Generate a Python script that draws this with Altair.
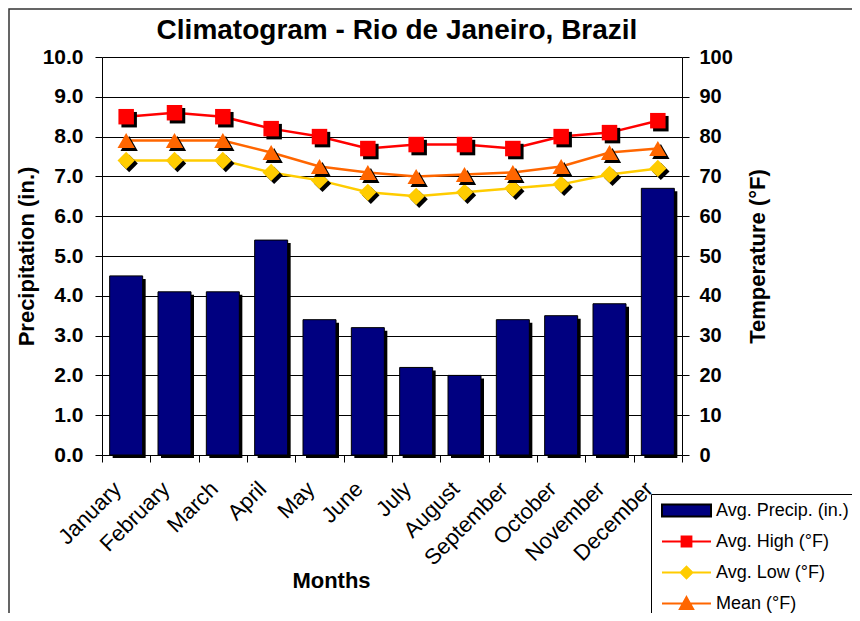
import altair as alt
import pandas as pd

months = ["January", "February", "March", "April", "May", "June", "July",
          "August", "September", "October", "November", "December"]
precip = [4.5, 4.1, 4.1, 5.4, 3.4, 3.2, 2.2, 2.0, 3.4, 3.5, 3.8, 6.7]
high = [85, 86, 85, 82, 80, 77, 78, 78, 77, 80, 81, 84]
low = [74, 74, 74, 71, 69, 66, 65, 66, 67, 68, 70.5, 72]
mean = [79, 79, 79, 76, 72.5, 71, 70, 70.5, 71, 72.5, 76, 77]
series = ["Avg. Precip. (in.)", "Avg. High (°F)", "Avg. Low (°F)", "Mean (°F)"]
precip_ticks = [0, 1, 2, 3, 4, 5, 6, 7, 8, 9, 10]
temp_ticks = [0, 10, 20, 30, 40, 50, 60, 70, 80, 90, 100]

FONT = "Liberation Sans, Arial, sans-serif"
NAVY = "#000080"
RED = "#FF0000"
GOLD = "#FFCC00"
ORANGE = "#FF6600"

df = pd.DataFrame({"month": months, "precip": precip, "high": high,
                   "low": low, "mean": mean})

X = alt.X(
    "month:N", sort=months,
    scale=alt.Scale(type="band", paddingInner=0, paddingOuter=0),
    axis=alt.Axis(
        title="Months", titleFont=FONT, titleFontSize=22, titleFontWeight="bold",
        titleColor="black", titleX=229, titleY=132, titleBaseline="alphabetic",
        titleAlign="center",
        labelAngle=-45, labelAlign="right", labelBaseline="middle",
        labelFont=FONT, labelFontSize=22, labelColor="black",
        labelPadding=23, labelOffset=-9,
        tickBand="extent", tickSize=7, tickColor="black",
        domainColor="black", grid=False,
    ),
)

py_scale = alt.Scale(domain=[0, 10], nice=False)
py_axis = alt.Axis(
    orient="left", values=precip_ticks, format=".1f",
    title="Precipitation (in.)", titleFont=FONT, titleFontSize=22,
    titleFontWeight="bold", titleColor="black", titleAngle=270,
    titleX=-76, titleY=199, titleAlign="center", titleBaseline="middle",
    labelFont=FONT, labelFontSize=21, labelFontWeight="bold", labelColor="black",
    labelPadding=12, tickSize=7, tickColor="black", domainColor="black",
    grid=True, gridColor="black", gridWidth=1,
)

ty_scale = alt.Scale(domain=[0, 100], nice=False)
ty_axis = alt.Axis(
    orient="right", values=temp_ticks, format="d",
    title="Temperature (°F)", titleFont=FONT, titleFontSize=22,
    titleFontWeight="bold", titleColor="black", titleAngle=270,
    titleX=75, titleY=199, titleAlign="center", titleBaseline="middle",
    labelFont=FONT, labelFontSize=20, labelFontWeight="bold", labelColor="black",
    labelPadding=10, tickSize=7, tickColor="black", domainColor="black",
    grid=False,
)

base = alt.Chart(df)

bar_shadow = base.mark_bar(color="black", size=33, xOffset=3, yOffset=3).encode(
    x=X, y=alt.Y("precip:Q", scale=py_scale, axis=py_axis))
bars = base.mark_bar(color=NAVY, size=33, stroke="black", strokeWidth=1).encode(
    x=X, y=alt.Y("precip:Q", scale=py_scale, axis=py_axis))
precip_layer = alt.layer(bar_shadow, bars)

temp_parts = []
for field, color, shape, size in [("high", RED, "square", 240),
                                  ("low", GOLD, "diamond", 300),
                                  ("mean", ORANGE, "triangle-up", 300)]:
    y = alt.Y(f"{field}:Q", scale=ty_scale, axis=ty_axis)
    temp_parts.append(base.mark_line(color=color, strokeWidth=2.5).encode(x=X, y=y))
    temp_parts.append(base.mark_point(shape=shape, filled=True, color="black", opacity=1,
                                      size=size, xOffset=3, yOffset=3).encode(x=X, y=y))
    temp_parts.append(base.mark_point(shape=shape, filled=True, color=color, opacity=1,
                                      size=size).encode(x=X, y=y))
temp_layer = alt.layer(*temp_parts)

# Legend (drawn from the scales; the layer itself shows no marks)
paths = [
    "M-1,-0.24H1V0.24H-1Z",
    "M-1,0H1M-0.2,-0.2H0.2V0.2H-0.2Z",
    "M-1,0H1M0,-0.24L0.24,0L0,0.24L-0.24,0Z",
    "M-1,0H1M0,-0.26L0.27,0.22H-0.27Z",
]
legend_df = pd.DataFrame({"series": series})
legend_layer = alt.Chart(legend_df).transform_filter("false").mark_point(
    filled=True, opacity=1).encode(
    shape=alt.Shape("series:N", scale=alt.Scale(domain=series, range=paths), legend=alt.Legend(title=None)),
    color=alt.Color("series:N", scale=alt.Scale(domain=series, range=[NAVY, RED, GOLD, ORANGE]), legend=alt.Legend(title=None)),
    stroke=alt.Stroke("series:N", scale=alt.Scale(domain=series, range=["black", RED, GOLD, ORANGE]), legend=alt.Legend(title=None)),
)

frame = alt.Chart(pd.DataFrame({"f": [0]})).mark_rect(
    fillOpacity=0, stroke="#333333", strokeWidth=1.5).encode(
    x=alt.value(-93), y=alt.value(-48), x2=alt.value(800), y2=alt.value(700))

chart = alt.layer(frame, precip_layer, temp_layer, legend_layer).resolve_scale(
    y="independent"
).properties(
    width=580, height=398,
    autosize=alt.AutoSizeParams(type="none"),
    padding={"left": 94, "top": 49, "right": 170, "bottom": 158},
    title=alt.TitleParams("Climatogram - Rio de Janeiro, Brazil", font=FONT,
                          fontSize=28, fontWeight="bold", color="black",
                          anchor="middle", frame="group", baseline="alphabetic",
                          offset=-59, dx=5),
).configure_view(stroke=None).configure_legend(
    orient="none", legendX=549, legendY=437, strokeColor="black", fillColor="white",
    padding=5, symbolSize=2401, symbolStrokeWidth=2, symbolOffset=5, labelOffset=4,
    clipHeight=23, rowPadding=8, labelFont=FONT, labelFontSize=18, labelColor="black",
    cornerRadius=0,
)

chart.save("out.html", embed_options={"renderer": "svg", "actions": False})
